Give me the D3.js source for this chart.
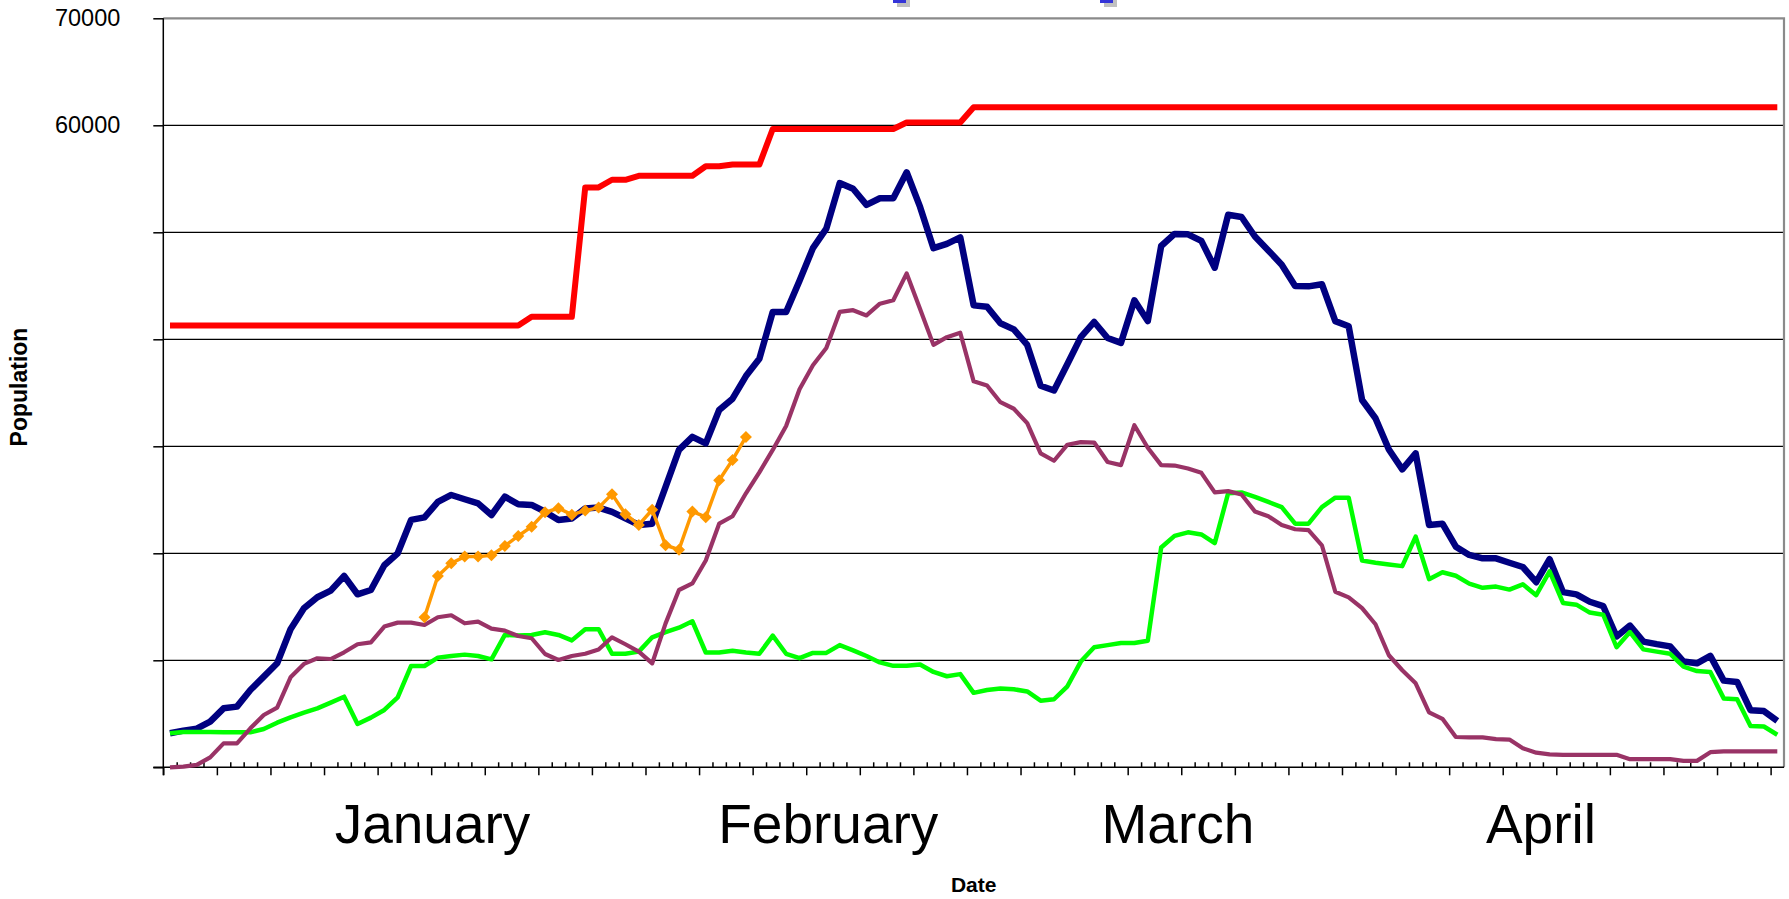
<!DOCTYPE html>
<html>
<head>
<meta charset="utf-8">
<script src="https://cdn.jsdelivr.net/npm/d3@7"></script>
<style>
  html, body { margin: 0; padding: 0; background: #fff; }
  svg { display: block; font-family: "Liberation Sans", Arial, sans-serif; }
</style>
</head>
<body>
<svg id="chart" width="1789" height="899"></svg>
<script>
// one value per day, Jan 1 -> Apr 30 (121 days)
const dayCount = 121;

const navySeries = [
  3180, 3430, 3610, 4270, 5510, 5670, 7230, 8470, 9720, 12900,
  14860, 15890, 16510, 17880, 16170, 16570, 18880, 20000, 23120, 23360,
  24800, 25450, 25050, 24670, 23580, 25300, 24580, 24520, 23890, 23120,
  23250, 24190, 24270, 23870, 23260, 22650, 22770, 26210, 29660, 30880,
  30270, 33390, 34450, 36560, 38180, 42560, 42560, 45480, 48520, 50340,
  54600, 54070, 52570, 53180, 53180, 55610, 52370, 48520, 48920, 49530,
  43170, 43040, 41500, 40930, 39470, 35660, 35220, 37690, 40200, 41620,
  40120, 39670, 43650, 41700, 48720, 49850, 49810, 49200, 46690, 51640,
  51430, 49610, 48310, 46970, 44990, 44950, 45150, 41700, 41220, 34330,
  32620, 29700, 27840, 29340, 22650, 22770, 20620, 19850, 19530, 19530,
  19120, 18720, 17300, 19450, 16370, 16160, 15470, 15070, 12230, 13240,
  11750, 11510, 11300, 9880, 9720, 10410, 8100, 7980, 5340, 5260,
  4330
];

const greenSeries = [
  3180, 3300, 3300, 3300, 3270, 3270, 3270, 3580, 4170, 4670,
  5110, 5510, 6040, 6600, 4050, 4640, 5360, 6540, 9470, 9470,
  10250, 10400, 10530, 10400, 10090, 12370, 12310, 12370, 12620, 12370,
  11860, 12910, 12910, 10610, 10610, 10810, 12150, 12640, 13050, 13650,
  10730, 10730, 10890, 10730, 10610, 12310, 10610, 10200, 10690, 10690,
  11420, 10930, 10400, 9800, 9480, 9480, 9600, 8910, 8510, 8710,
  6960, 7220, 7370, 7290, 7090, 6230, 6360, 7570, 9880, 11220,
  11420, 11620, 11620, 11830, 20540, 21630, 21960, 21760, 20950, 25610,
  25690, 25280, 24800, 24310, 22770, 22770, 24310, 25200, 25200, 19330,
  19120, 18950, 18800, 21560, 17580, 18230, 17900, 17170, 16770, 16890,
  16610, 17100, 16090, 18320, 15360, 15200, 14460, 14260, 11220, 12640,
  11020, 10810, 10610, 9400, 8990, 8910, 6440, 6360, 3850, 3810,
  3040
];

const plumSeries = [
  0, 60, 220, 930, 2240, 2240, 3640, 4890, 5580, 8410,
  9660, 10190, 10120, 10750, 11500, 11680, 13150, 13520, 13520, 13300,
  14020, 14210, 13460, 13610, 12960, 12770, 12270, 12060, 10590, 10030,
  10400, 10610, 11010, 12150, 11500, 10810, 9720, 13450, 16570, 17180,
  19330, 22770, 23460, 25610, 27560, 29660, 31890, 35340, 37570, 39190,
  42560, 42720, 42230, 43330, 43650, 46160, 42840, 39480, 40200, 40610,
  36070, 35680, 34120, 33510, 32170, 29340, 28650, 30150, 30390, 30350,
  28530, 28240, 31970, 29860, 28240, 28200, 27920, 27520, 25690, 25810,
  25490, 23910, 23460, 22650, 22250, 22170, 20750, 16410, 15880, 14870,
  13370, 10470, 9070, 7850, 5140, 4530, 2830, 2790, 2790, 2630,
  2590, 1780, 1370, 1210, 1170, 1170, 1170, 1170, 1170, 760,
  760, 760, 760, 600, 600, 1410, 1490, 1490, 1490, 1490,
  1490
];

const redSeries = [
  41280, 41280, 41280, 41280, 41280, 41280, 41280, 41280, 41280, 41280,
  41280, 41280, 41280, 41280, 41280, 41280, 41280, 41280, 41280, 41280,
  41280, 41280, 41280, 41280, 41280, 41280, 41280, 42100, 42100, 42100,
  42100, 54190, 54190, 54910, 54910, 55280, 55280, 55280, 55280, 55280,
  56170, 56170, 56330, 56330, 56330, 59650, 59650, 59650, 59650, 59650,
  59650, 59650, 59650, 59650, 59650, 60260, 60260, 60260, 60260, 60260,
  61680, 61680, 61680, 61680, 61680, 61680, 61680, 61680, 61680, 61680,
  61680, 61680, 61680, 61680, 61680, 61680, 61680, 61680, 61680, 61680,
  61680, 61680, 61680, 61680, 61680, 61680, 61680, 61680, 61680, 61680,
  61680, 61680, 61680, 61680, 61680, 61680, 61680, 61680, 61680, 61680,
  61680, 61680, 61680, 61680, 61680, 61680, 61680, 61680, 61680, 61680,
  61680, 61680, 61680, 61680, 61680, 61680, 61680, 61680, 61680, 61680,
  61680
];

// short series with diamond markers, starts on day 19
const orangeStart = 19;
const orangeSeries = [
  14020, 17880, 19070, 19690, 19690, 19810, 20690, 21620, 22490, 23830,
  24210, 23610, 23990, 24270, 25530, 23660, 22650, 24070, 20750, 20340,
  23910, 23380, 26820, 28730, 30880
];

const yTickValues = [0, 10000, 20000, 30000, 40000, 50000, 60000, 70000];
const yTickLabels = ["", "", "", "", "", "", "60000", "70000"];

const monthNames = ["January", "February", "March", "April"];
// day (in category units) under the centre of each month caption
const monthLabelDays = [20.1, 49.65, 75.75, 102.85];

const svg = d3.select("#chart");

const plotLeft = 163.3, plotRight = 1784, plotTop = 18.3, plotBottom = 767.3;

const x = d3.scaleBand().domain(d3.range(dayCount)).range([plotLeft, plotRight]);
const xEdge = d3.scaleLinear().domain([0, dayCount]).range([plotLeft, plotRight]);
const cx = i => x(i) + x.bandwidth() / 2;
const y = d3.scaleLinear().domain([0, 70000]).range([plotBottom, plotTop]);

// gridlines
svg.append("g")
  .selectAll("line")
  .data(yTickValues.filter(v => v > 0 && v < 70000))
  .join("line")
  .attr("x1", plotLeft).attr("x2", plotRight)
  .attr("y1", d => y(d)).attr("y2", d => y(d))
  .attr("stroke", "#000").attr("stroke-width", 1.2);

// plot border (top / right are grey)
svg.append("path")
  .attr("d", `M${plotLeft},${plotTop}H${plotRight}V${plotBottom}`)
  .attr("fill", "none").attr("stroke", "#8a8a8a").attr("stroke-width", 2.2);

// y axis
const yAxis = svg.append("g")
  .attr("transform", `translate(${plotLeft},0)`)
  .call(d3.axisLeft(y)
    .tickValues(yTickValues)
    .tickSize(10)
    .tickPadding(33)
    .tickFormat((d, i) => yTickLabels[i]));
yAxis.select(".domain").attr("d", `M0,${plotTop}V${plotBottom + 8}`);
yAxis.selectAll("text")
  .attr("fill", "#000")
  .style("font-size", "23.5px")
  .style("font-family", "'Liberation Sans', Arial, sans-serif");

// x axis: major ticks every 4 days hang below, the rest stand above
const majorDays = d3.range(0, dayCount).filter(k => k % 4 === 0);
const minorDays = d3.range(0, dayCount).filter(k => k % 4 !== 0);

const xMajor = svg.append("g")
  .attr("transform", `translate(0,${plotBottom})`)
  .call(d3.axisBottom(xEdge).tickValues(majorDays).tickSize(8).tickFormat(""));
xMajor.select(".domain").attr("d", `M${plotLeft - 10},0H${plotRight}`);

const xMinor = svg.append("g")
  .attr("transform", `translate(0,${plotBottom})`)
  .call(d3.axisBottom(xEdge).tickValues(minorDays).tickSize(-5).tickFormat(""));
xMinor.select(".domain").remove();

svg.selectAll(".tick line, .domain").attr("stroke", "#000").attr("stroke-width", 1.5);

// month captions
svg.append("g")
  .selectAll("text")
  .data(monthNames)
  .join("text")
  .attr("x", (d, i) => xEdge(monthLabelDays[i]))
  .attr("y", 843)
  .attr("text-anchor", "middle")
  .style("font-size", "55px")
  .text(d => d);

// axis titles
svg.append("text")
  .attr("x", (plotLeft + plotRight) / 2)
  .attr("y", 892)
  .attr("text-anchor", "middle")
  .style("font-size", "21px")
  .style("font-weight", "bold")
  .text("Date");

svg.append("text")
  .attr("transform", "translate(27,387) rotate(-90)")
  .attr("text-anchor", "middle")
  .style("font-size", "23px")
  .style("font-weight", "bold")
  .text("Population");

// the lines
const line = d3.line()
  .x((d, i) => cx(i))
  .y(d => y(d));

const drawSeries = (values, color, width) => {
  svg.append("path")
    .datum(values)
    .attr("d", line)
    .attr("fill", "none")
    .attr("stroke", color)
    .attr("stroke-width", width)
    .attr("stroke-linejoin", "round");
};

drawSeries(navySeries, "#000080", 6.5);
drawSeries(greenSeries, "#00ff00", 4.5);
drawSeries(plumSeries, "#993366", 4.2);

const orangeLine = d3.line()
  .x((d, i) => cx(i + orangeStart))
  .y(d => y(d));

svg.append("path")
  .datum(orangeSeries)
  .attr("d", orangeLine)
  .attr("fill", "none")
  .attr("stroke", "#ff9900")
  .attr("stroke-width", 3.5)
  .attr("stroke-linejoin", "round");

svg.append("g")
  .selectAll("path")
  .data(orangeSeries)
  .join("path")
  .attr("d", d3.symbol(d3.symbolSquare, 72))
  .attr("transform", (d, i) => `translate(${cx(i + orangeStart)},${y(d)}) rotate(45)`)
  .attr("fill", "#ff9900");

drawSeries(redSeries, "#ff0000", 6);

// legend keys, cut off by the top edge
const legendKeys = [893, 1100];
const legend = svg.append("g");
legend.selectAll("rect.shadow")
  .data(legendKeys)
  .join("rect")
  .attr("class", "shadow")
  .attr("x", d => d + 4).attr("y", -6)
  .attr("width", 13).attr("height", 13)
  .attr("fill", "#c0c0c0");
legend.selectAll("rect.key")
  .data(legendKeys)
  .join("rect")
  .attr("class", "key")
  .attr("x", d => d).attr("y", -10)
  .attr("width", 13).attr("height", 13)
  .attr("fill", "#3434d8");
</script>
</body>
</html>
